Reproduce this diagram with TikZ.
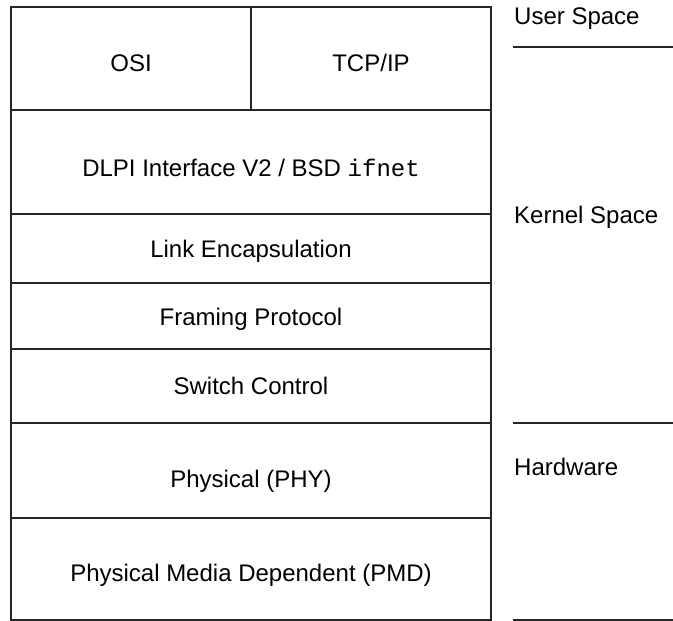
\documentclass[tikz,border=0pt]{standalone}
\usepackage{fontspec}
\setmainfont{Liberation Sans}
\newfontfamily\monofont{Liberation Mono}
\begin{document}
\begin{tikzpicture}[x=1pt,y=-1pt,
  rule/.style={line width=1.2pt,black!85},
  lbl/.style={font=\fontsize{24}{27}\selectfont,inner sep=0pt,anchor=center}]
\useasboundingbox (0,0) rectangle (673,621);
% box frame
\draw[rule] (11,620) -- (11,7) -- (491,7) -- (491,620) -- cycle;
\draw[rule] (251,7) -- (251,110);
\foreach \yy in {110,214,283,349,423,518}{\draw[rule] (11,\yy) -- (491,\yy);}
% right separators
\draw[rule] (513,47) -- (673,47);
\draw[rule] (513,423) -- (673,423);
\draw[rule] (513,620) -- (673,620);
% layer labels
\node[lbl] (osi) at (131,63) {OSI};
\node[lbl] (tcp) at (371,63) {TCP/IP};
\node[lbl] (dlpi) at (251,168) {DLPI Interface V2 / BSD {\monofont ifnet}};
\node[lbl] (link) at (251,251) {Link Encapsulation};
\node[lbl] (frame) at (251,319) {Framing Protocol};
\node[lbl] (switch) at (251,386) {Switch Control};
\node[lbl] (phy) at (251,481) {Physical (PHY)};
\node[lbl] (pmd) at (251,575) {Physical Media Dependent (PMD)};
% space labels
\node[lbl,anchor=west] (user) at (514,19) {User Space};
\node[lbl,anchor=west] (kernel) at (514,217) {Kernel Space};
\node[lbl,anchor=west] (hw) at (514,467) {Hardware};
\end{tikzpicture}
\end{document}
